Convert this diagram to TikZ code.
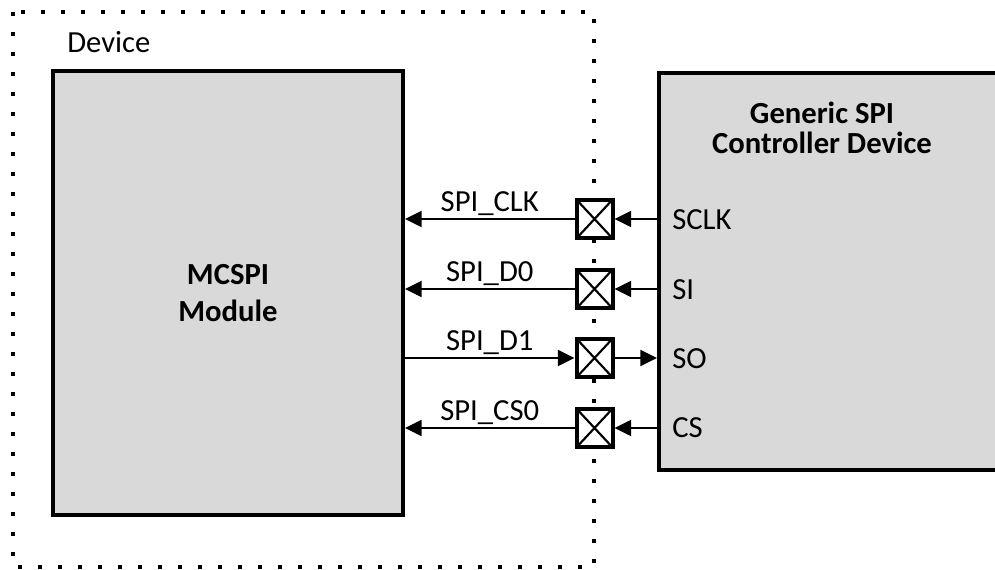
\documentclass[tikz,border=0pt]{standalone}
\usepackage{fontspec}
\setmainfont{Carlito}
\usetikzlibrary{arrows.meta}
\definecolor{boxgray}{HTML}{D9D9D9}

\begin{document}
\begin{tikzpicture}[x=0.75pt,y=-0.75pt,
    font=\fontsize{23}{27}\selectfont,
    block/.style={draw,line width=3pt,fill=boxgray,inner sep=0pt},
    pad/.style={draw,line width=3pt,fill=white,inner sep=0pt,
      minimum width=27pt,minimum height=29pt,
      path picture={\draw[line width=1.6pt]
        (path picture bounding box.north west) -- (path picture bounding box.south east)
        (path picture bounding box.north east) -- (path picture bounding box.south west);}},
    sig/.style={line width=1.5pt,-{Triangle[length=12.5pt,width=12pt]}},
    sigtext/.style={midway,above,inner sep=2pt},
    pintext/.style={anchor=west,inner sep=0pt}]
  \useasboundingbox (0,0) rectangle (995,569);
  \clip (0,0) rectangle (995,569);
  % device border
  \draw[line width=3pt,dash pattern=on 3pt off 12pt] (13,12) rectangle (594,567);
  \node[anchor=west,inner sep=0pt] (devtext) at (67,42) {Device};
  % blocks
  \node[block,minimum width=262.5pt,minimum height=333pt,align=center,
    font=\fontsize{23}{27.75}\selectfont\bfseries] (mcspi) at (228,293) {MCSPI\\Module};
  \node[block,minimum width=255.75pt,minimum height=297.75pt] (ctrl) at (829.5,271.5) {};
  \node[align=center,font=\fontsize{23}{22.5}\selectfont\bfseries] (ctrltext) at (822,128)
    {Generic SPI\\Controller Device};
  % pads
  \node[pad] (clkpad) at (594.5,219) {};
  \node[pad] (d0pad) at (594.5,289) {};
  \node[pad] (d1pad) at (594.5,358) {};
  \node[pad] (cspad) at (594.5,428) {};
  % controller pins
  \node[pintext] (sclk) at (672,220) {SCLK};
  \node[pintext] (si) at (672,290) {SI};
  \node[pintext] (so) at (672,359) {SO};
  \node[pintext] (cs) at (672,428) {CS};
  % signals
  \draw[sig] (ctrl.west |- clkpad) -- (clkpad);
  \draw[sig] (clkpad) -- (clkpad -| mcspi.east) node[sigtext] {SPI\_CLK};
  \draw[sig] (ctrl.west |- d0pad) -- (d0pad);
  \draw[sig] (d0pad) -- (d0pad -| mcspi.east) node[sigtext] {SPI\_D0};
  \draw[sig] (mcspi.east |- d1pad) -- (d1pad) node[sigtext] {SPI\_D1};
  \draw[sig] (d1pad) -- (d1pad -| ctrl.west);
  \draw[sig] (ctrl.west |- cspad) -- (cspad);
  \draw[sig] (cspad) -- (cspad -| mcspi.east) node[sigtext] {SPI\_CS0};
\end{tikzpicture}
\end{document}
